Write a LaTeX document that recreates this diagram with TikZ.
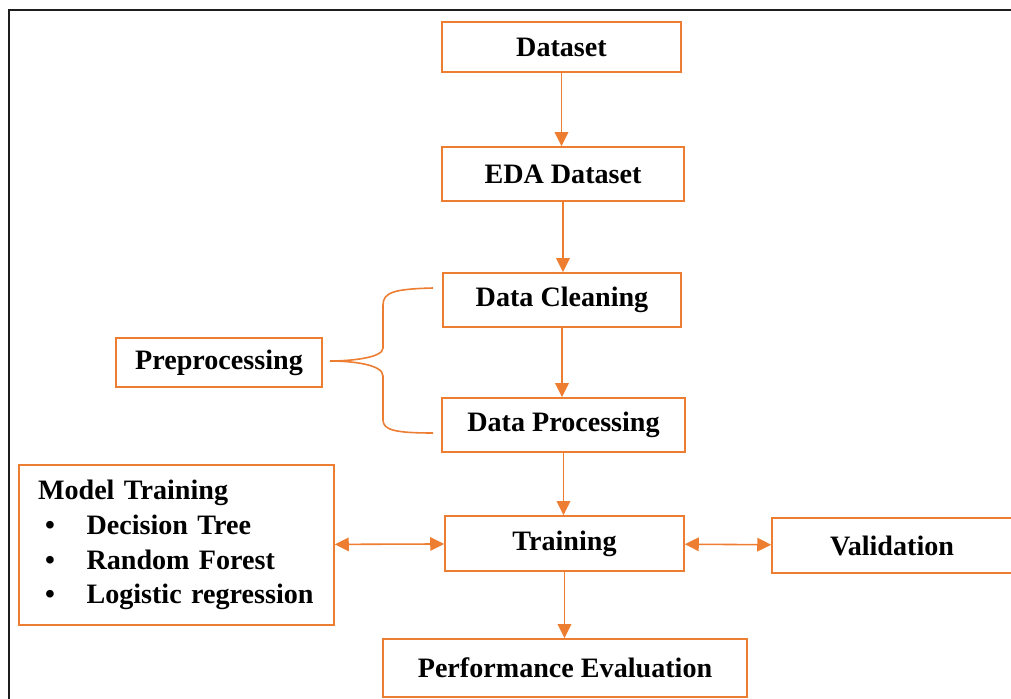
\documentclass[tikz,border=0pt]{standalone}
\usepackage{fontspec}
\setmainfont{Liberation Serif}
\usetikzlibrary{arrows.meta}
\usepackage{xcolor}
\definecolor{naranja}{HTML}{ED7D31}
\definecolor{marco}{HTML}{1E1E1E}
\newcommand{\punto}{\hspace*{4pt}\textbullet\hspace*{18pt}}

\begin{document}
\begin{tikzpicture}[x=0.02cm,y=-0.02cm,
    box/.style={draw=naranja,line width=0.9pt,fill=white,inner sep=0pt,font=\fontsize{16}{19.8}\selectfont\bfseries},
    flow/.style={-{Triangle[length=2.8mm,width=2.7mm]},naranja,line width=0.9pt},
    both/.style={{Triangle[length=2.8mm,width=2.7mm]}-{Triangle[length=2.8mm,width=2.7mm]},naranja,line width=0.9pt}]
      \useasboundingbox (0,0) rectangle (1011,699);
      \draw[marco,line width=1.2pt] (9,699) -- (9,10) -- (1011,10);
      \node[box,minimum width=4.78cm,minimum height=1.0cm] (dataset) at (561.5,47) {Dataset};
      \node[box,minimum width=4.84cm,minimum height=1.08cm] (eda) at (563,174) {EDA Dataset};
      \node[box,minimum width=4.76cm,minimum height=1.08cm] (cleaning) at (562,300) {Data Cleaning};
      \node[box,minimum width=4.86cm,minimum height=1.08cm] (processing) at (563.5,425) {Data Processing};
      \node[box,minimum width=4.12cm,minimum height=0.98cm] (prep) at (219,362.5) {Preprocessing};
      \node[box,minimum width=4.78cm,minimum height=1.1cm] (training) at (564.5,543.5) {Training};
      \node[box,minimum width=4.96cm,minimum height=1.1cm] (validation) at (896,545.5) {\hspace*{-0.16cm}Validation};
      \node[box,minimum width=7.28cm,minimum height=1.16cm] (perf) at (565,668) {Performance Evaluation};
      \node[box,minimum width=6.3cm,minimum height=3.2cm,text width=5.54cm,inner xsep=0.38cm,align=left] (models) at (176.5,545)
        {Model Training\\
         \punto Decision Tree\\
         \punto Random Forest\\
         \punto Logistic regression};
      % brace from preprocessing to the two cleaning steps
      \coordinate (btop) at (433,288);
      \coordinate (bbot) at (433,433);
      \coordinate (btip) at (330,361);
      \draw[naranja,line width=0.9pt] (btop) .. controls (395,289) and (383,292) .. (383,305) -- (383,348)
        .. controls (383,358) and (350,361) .. (btip)
        .. controls (350,361) and (383,364) .. (383,376) -- (383,420)
        .. controls (383,430) and (395,433) .. (bbot);
      \draw[flow] (dataset.south) -- (dataset.south |- eda.north);
      \draw[flow] (eda.south) -- (eda.south |- cleaning.north);
      \draw[flow] (cleaning.south) -- (cleaning.south |- processing.north);
      \draw[flow] (processing.south) -- (processing.south |- training.north);
      \draw[flow] (training.south) -- (training.south |- perf.north);
      \draw[both] (models) -- (training);
      \draw[both] (training) -- (validation);
    \end{tikzpicture}
\end{document}
